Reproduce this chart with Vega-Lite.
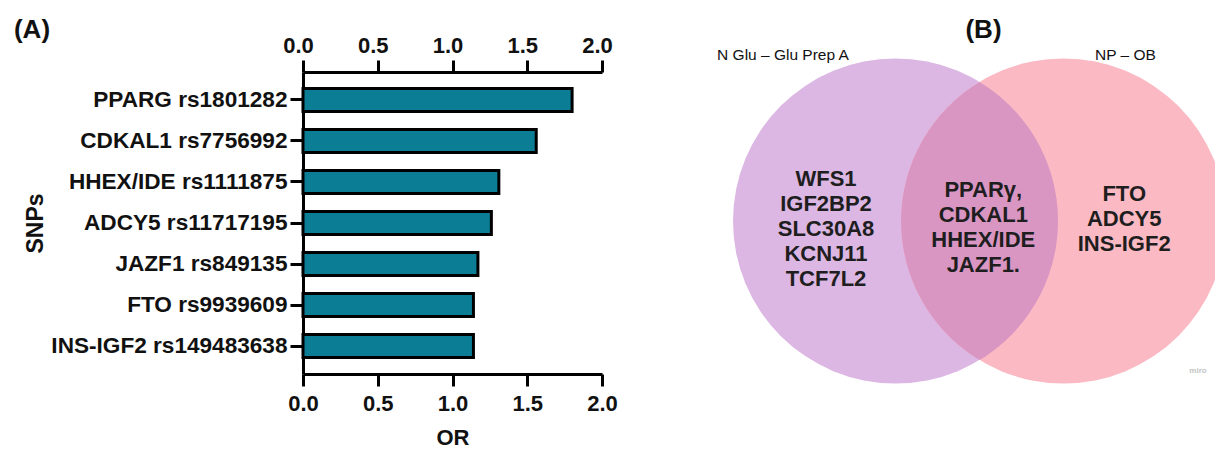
{
  "$schema": "https://vega.github.io/schema/vega-lite/v6.json",
  "width": 1215,
  "height": 449,
  "autosize": {"type": "none"},
  "padding": 0,
  "background": "white",
  "config": {
    "view": {"stroke": null},
    "font": "Liberation Sans",
    "axis": {"grid": false}
  },
  "datasets": {
    "snps": [
      {"snp": "PPARG rs1801282", "or": 1.80},
      {"snp": "CDKAL1 rs7756992", "or": 1.56},
      {"snp": "HHEX/IDE rs1111875", "or": 1.31},
      {"snp": "ADCY5 rs11717195", "or": 1.26},
      {"snp": "JAZF1 rs849135", "or": 1.17},
      {"snp": "FTO rs9939609\u00a0", "or": 1.14},
      {"snp": "INS-IGF2 rs149483638", "or": 1.14}
    ],
    "regions": [
      {"region": "N Glu – Glu Prep A", "genes": "WFS1\nIGF2BP2\nSLC30A8\nKCNJ11\nTCF7L2"},
      {"region": "NP – OB", "genes": "FTO\nADCY5\nINS-IGF2"},
      {"region": "Both", "genes": "PPARγ,\nCDKAL1\nHHEX/IDE\nJAZF1."}
    ]
  },
  "layer": [
    {
      "data": {"name": "snps"},
      "layer": [
        {
          "mark": {"type": "bar", "opacity": 0},
          "encoding": {
            "x": {
              "field": "or",
              "type": "quantitative",
              "scale": {"domain": [0, 2], "range": [303, 602], "nice": false, "zero": true},
              "axis": {
                "orient": "bottom",
                "offset": -75,
                "values": [0, 0.5, 1, 1.5, 2],
                "format": ".1f",
                "title": "OR",
                "domainColor": "#000000",
                "domainWidth": 3,
                "tickColor": "#000000",
                "tickWidth": 3,
                "tickSize": 12,
                "labelFont": "Liberation Sans",
                "labelFontWeight": "bold",
                "labelFontSize": 22,
                "labelColor": "#111111",
                "labelPadding": 7,
                "labelFlush": false,
                "labelOverlap": false,
                "titleFont": "Liberation Sans",
                "titleFontWeight": "bold",
                "titleFontSize": 22,
                "titleColor": "#111111",
                "titleY": 53,
                "titleBaseline": "top"
              }
            },
            "y": {
              "field": "snp",
              "type": "nominal",
              "sort": null,
              "scale": {"type": "band", "range": [72, 374], "paddingInner": 0.44, "paddingOuter": 0.4},
              "axis": {
                "orient": "left",
                "offset": -303,
                "title": "SNPs",
                "domainColor": "#000000",
                "domainWidth": 3,
                "tickColor": "#000000",
                "tickWidth": 3,
                "tickSize": 13,
                "labelFont": "Liberation Sans",
                "labelFontWeight": "bold",
                "labelFontSize": 22.6,
                "labelColor": "#111111",
                "labelPadding": 3,
                "labelLimit": 400,
                "titleFont": "Liberation Sans",
                "titleFontWeight": "bold",
                "titleFontSize": 23,
                "titleColor": "#111111",
                "titleAngle": -90,
                "titleX": -268,
                "titleY": 223,
                "titleAlign": "center",
                "titleBaseline": "middle"
              }
            }
          }
        },
        {
          "mark": {"type": "bar", "fill": "#0B7D95", "stroke": "#000000", "strokeWidth": 3},
          "encoding": {
            "x": {
              "field": "or",
              "type": "quantitative",
              "axis": {
                "orient": "top",
                "offset": -72,
                "values": [0, 0.5, 1, 1.5, 2],
                "format": ".1f",
                "title": null,
                "domainColor": "#000000",
                "domainWidth": 3,
                "tickColor": "#000000",
                "tickWidth": 3,
                "tickSize": 12,
                "labelFont": "Liberation Sans",
                "labelFontWeight": "bold",
                "labelFontSize": 22,
                "labelColor": "#111111",
                "labelPadding": 3,
                "labelOffset": -5,
                "labelFlush": false,
                "labelOverlap": false
              }
            },
            "y": {"field": "snp", "type": "nominal", "sort": null}
          }
        }
      ],
      "resolve": {"axis": {"x": "independent"}}
    },
    {
      "data": {"name": "regions"},
      "mark": {"type": "point", "filled": true, "opacity": 1, "size": 105625, "strokeWidth": 0},
      "encoding": {
        "x": {
          "field": "region", "type": "nominal",
          "scale": {"type": "point", "domain": ["N Glu – Glu Prep A", "Both", "NP – OB"], "range": [895.5, 1063.5], "padding": 0},
          "axis": null
        },
        "y": {
          "field": "region", "type": "nominal",
          "scale": {"type": "point", "domain": ["N Glu – Glu Prep A", "Both", "NP – OB"], "range": [221, 221], "padding": 0},
          "axis": null
        },
        "shape": {
          "field": "region", "type": "nominal",
          "scale": {"domain": ["N Glu – Glu Prep A", "Both", "NP – OB"], "range": ["circle", "M0,-0.856A1,1,0,0,1,0,0.856A1,1,0,0,1,0,-0.856Z", "circle"]},
          "legend": null
        },
        "color": {
          "field": "region", "type": "nominal",
          "scale": {"domain": ["N Glu – Glu Prep A", "Both", "NP – OB"], "range": ["#DCB7E3", "#D996C3", "#FBB9C3"]},
          "legend": null
        }
      }
    },
    {
      "data": {"name": "regions"},
      "transform": [{"filter": "datum.region !== 'Both'"}],
      "mark": {"type": "text", "font": "Liberation Sans", "fontWeight": "bold", "fontSize": 22, "lineHeight": 25, "lineBreak": "\n", "color": "#1e1e1e", "align": "center", "baseline": "middle"},
      "encoding": {
        "text": {"field": "genes"},
        "x": {
          "field": "region", "type": "nominal",
          "scale": {"type": "point", "domain": ["N Glu – Glu Prep A", "NP – OB"], "range": [826, 1124.2], "padding": 0},
          "axis": null
        },
        "y": {
          "field": "region", "type": "nominal",
          "scale": {"type": "point", "domain": ["N Glu – Glu Prep A", "NP – OB"], "range": [178.5, 193.5], "padding": 0},
          "axis": null
        }
      }
    },
    {
      "data": {"name": "regions"},
      "transform": [{"filter": "datum.region === 'Both'"}],
      "mark": {"type": "text", "font": "Liberation Sans", "fontWeight": "bold", "fontSize": 22, "lineHeight": 25, "lineBreak": "\n", "color": "#1e1e1e", "align": "center", "baseline": "middle"},
      "encoding": {
        "text": {"field": "genes"},
        "x": {
          "field": "region", "type": "nominal",
          "scale": {"type": "point", "domain": ["Both"], "range": [983.3, 983.3], "padding": 0},
          "axis": null
        },
        "y": {
          "field": "region", "type": "nominal",
          "scale": {"type": "point", "domain": ["Both"], "range": [189.6, 189.6], "padding": 0},
          "axis": null
        }
      }
    },
    {
      "data": {"name": "regions"},
      "transform": [{"filter": "datum.region !== 'Both'"}],
      "mark": {"type": "text", "font": "Liberation Sans", "fontSize": 15.5, "color": "#111111", "align": "center", "baseline": "middle"},
      "encoding": {
        "text": {"field": "region"},
        "x": {
          "field": "region", "type": "nominal",
          "scale": {"type": "point", "domain": ["N Glu – Glu Prep A", "NP – OB"], "range": [783, 1125.5], "padding": 0},
          "axis": null
        },
        "y": {
          "field": "region", "type": "nominal",
          "scale": {"type": "point", "domain": ["N Glu – Glu Prep A", "NP – OB"], "range": [55, 55], "padding": 0},
          "axis": null
        }
      }
    },
    {
      "data": {"values": [{"panel": "(A)"}, {"panel": "(B)"}]},
      "mark": {"type": "text", "font": "Liberation Sans", "fontWeight": "bold", "fontSize": 26, "color": "#111111", "align": "center", "baseline": "middle"},
      "encoding": {
        "text": {"field": "panel"},
        "x": {
          "field": "panel", "type": "nominal",
          "scale": {"type": "point", "domain": ["(A)", "(B)"], "range": [32, 983.5], "padding": 0},
          "axis": null
        },
        "y": {
          "field": "panel", "type": "nominal",
          "scale": {"type": "point", "domain": ["(A)", "(B)"], "range": [30, 30], "padding": 0},
          "axis": null
        }
      }
    },
    {
      "data": {"values": [{"credit": "miro"}]},
      "mark": {"type": "text", "font": "Liberation Sans", "fontWeight": "bold", "fontSize": 8, "color": "#c4c4c4", "align": "center", "baseline": "middle"},
      "encoding": {
        "text": {"field": "credit"},
        "x": {
          "field": "credit", "type": "nominal",
          "scale": {"type": "point", "domain": ["miro"], "range": [1198, 1198], "padding": 0},
          "axis": null
        },
        "y": {
          "field": "credit", "type": "nominal",
          "scale": {"type": "point", "domain": ["miro"], "range": [371, 371], "padding": 0},
          "axis": null
        }
      }
    }
  ],
  "resolve": {"scale": {"x": "independent", "y": "independent", "color": "independent", "shape": "independent"}}
}
